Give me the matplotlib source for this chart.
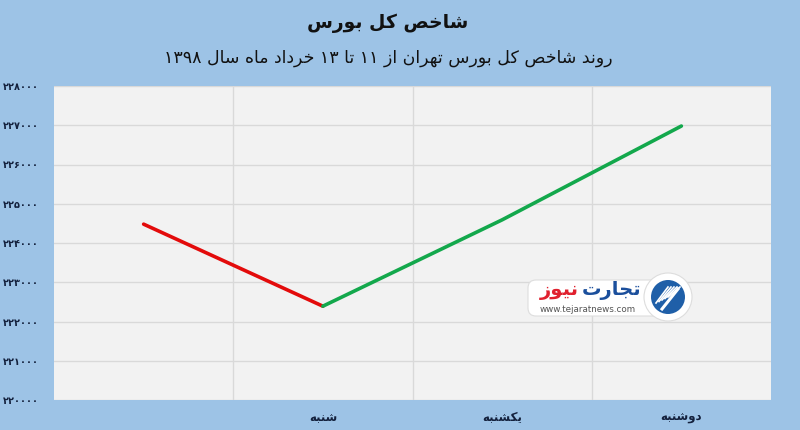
import re
import matplotlib
matplotlib.use('Agg')
import matplotlib.pyplot as plt
from matplotlib.patches import FancyBboxPatch, Circle

# presentation forms: isolated, final, initial, medial (None = does not join forward)
FORMS = {
    'ا': ('\uFE8D', '\uFE8E', None, None),
    'ب': ('\uFE8F', '\uFE90', '\uFE91', '\uFE92'),
    'ت': ('\uFE95', '\uFE96', '\uFE97', '\uFE98'),
    'ج': ('\uFE9D', '\uFE9E', '\uFE9F', '\uFEA0'),
    'خ': ('\uFEA5', '\uFEA6', '\uFEA7', '\uFEA8'),
    'د': ('\uFEA9', '\uFEAA', None, None),
    'ر': ('\uFEAD', '\uFEAE', None, None),
    'ز': ('\uFEAF', '\uFEB0', None, None),
    'س': ('\uFEB1', '\uFEB2', '\uFEB3', '\uFEB4'),
    'ش': ('\uFEB5', '\uFEB6', '\uFEB7', '\uFEB8'),
    'ص': ('\uFEB9', '\uFEBA', '\uFEBB', '\uFEBC'),
    'ل': ('\uFEDD', '\uFEDE', '\uFEDF', '\uFEE0'),
    'م': ('\uFEE1', '\uFEE2', '\uFEE3', '\uFEE4'),
    'ن': ('\uFEE5', '\uFEE6', '\uFEE7', '\uFEE8'),
    'ه': ('\uFEE9', '\uFEEA', '\uFEEB', '\uFEEC'),
    'و': ('\uFEED', '\uFEEE', None, None),
    'ک': ('\uFB8E', '\uFB8F', '\uFB90', '\uFB91'),
    'ی': ('\uFBFC', '\uFBFD', '\uFEF3', '\uFEF4'),
}


def fa(s):
    out = []
    for i, c in enumerate(s):
        if c not in FORMS:
            out.append(c)
            continue
        prev = s[i - 1] if i > 0 else ''
        nxt = s[i + 1] if i + 1 < len(s) else ''
        jp = prev in FORMS and FORMS[prev][2] is not None
        jn = FORMS[c][2] is not None and nxt in FORMS
        iso, fin, ini, med = FORMS[c]
        if jp and jn:
            out.append(med)
        elif jp:
            out.append(fin)
        elif jn:
            out.append(ini)
        else:
            out.append(iso)
    vis = ''.join(out)[::-1]
    return re.sub(r'[0-9۰-۹]+', lambda m: m.group(0)[::-1], vis)


def fa_num(n):
    return str(n).translate(str.maketrans('0123456789', '۰۱۲۳۴۵۶۷۸۹'))


title = 'شاخص کل بورس'
subtitle = 'روند شاخص کل بورس تهران از ۱۱ تا ۱۳ خرداد ماه سال ۱۳۹۸'
days = ['', 'شنبه', 'یکشنبه', 'دوشنبه']
index_vals = [224480, 222390, 224590, 226980]
yticks = list(range(220000, 228001, 1000))

bg = '#9DC3E6'
navy = '#14213D'

fig = plt.figure(figsize=(8, 4.3), dpi=100, facecolor=bg)
ax = fig.add_axes([54 / 800, 30 / 430, 717 / 800, 314 / 430])
ax.set_facecolor('#F2F2F2')

x = list(range(len(days)))
ax.plot(x[:2], index_vals[:2], color='#E30B0B', lw=2.6, solid_capstyle='round')
ax.plot(x[1:], index_vals[1:], color='#13A84C', lw=2.6, solid_capstyle='round')

ax.set_xlim(-0.5, len(days) - 0.5)
ax.set_ylim(yticks[0], yticks[-1])
ax.set_yticks(yticks)
ax.set_yticklabels([fa_num(v) for v in yticks], fontsize=7, fontweight='bold', color=navy)
ax.set_xticks(x)
ax.set_xticklabels([fa(d) for d in days], fontsize=8.5, fontweight='bold', color=navy)
ax.set_xticks([i + 0.5 for i in x[:-1]], minor=True)
ax.tick_params(which='both', length=0)
ax.tick_params(axis='y', pad=11)
ax.tick_params(axis='x', pad=8)
ax.grid(axis='y', color='#D9D9D9', lw=1)
ax.grid(axis='x', which='minor', color='#D9D9D9', lw=1)
for sp in ax.spines.values():
    sp.set_visible(False)
ax.set_axisbelow(True)

fig.text(0.485, 0.947, fa(title), ha='center', va='center', fontsize=13.5,
         fontweight='bold', color='#111111')
fig.text(0.485, 0.865, fa(subtitle), ha='center', va='center', fontsize=12.5,
         color='#111111')

# watermark logo
lg = fig.add_axes([522 / 800, (430 - 325) / 430, 180 / 800, 56 / 430])
lg.set_xlim(0, 180)
lg.set_ylim(0, 56)
lg.axis('off')
lg.add_patch(FancyBboxPatch((6, 9), 140, 36, boxstyle='round,pad=0,rounding_size=8',
                            fc='white', ec='#DDDDDD', lw=0.8))
lg.add_patch(Circle((146, 28), 24, fc='white', ec='#DDDDDD', lw=0.8))
lg.add_patch(Circle((146, 28), 17, fc='#1F5FA8', ec='none'))
for k in range(5):
    lg.plot([134 + k * 3, 146 + k * 3], [22 + k * 1.5, 38], color='white', lw=1.2)
lg.plot([140, 156], [16, 36], color='white', lw=2.2)
lg.text(119, 34, fa('تجارت'), ha='right', va='center', fontsize=14,
        fontweight='bold', color='#1B4F9C')
lg.text(57, 34, fa('نیوز'), ha='right', va='center', fontsize=14,
        fontweight='bold', color='#E0202E')
lg.text(66, 15, 'www.tejaratnews.com', ha='center', va='center', fontsize=6.3,
        color='#555555')

fig.savefig('out.png', dpi=100, facecolor=bg)
